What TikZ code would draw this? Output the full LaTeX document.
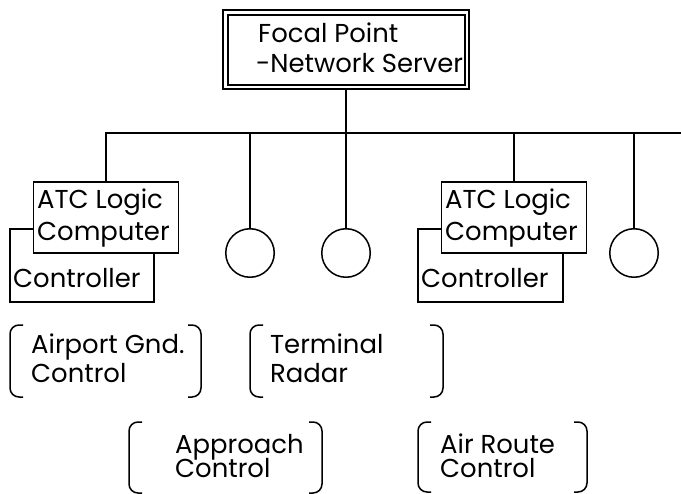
\documentclass[tikz,border=0pt]{standalone}
\usepackage{fontspec}
\setmainfont{Poppins}
\newcommand\brkpair[4]{%
  \draw[ln, rounded corners=9bp] (#1+13,#3) -- (#1,#3) -- (#1,#4) -- (#1+13,#4);
  \draw[ln, rounded corners=9bp] (#2-13,#3) -- (#2,#3) -- (#2,#4) -- (#2-13,#4);}
\begin{document}
\begin{tikzpicture}[x=1bp,y=-1bp,
  ln/.style={line width=1.5bp},
  boxn/.style={draw, ln, fill=white, inner sep=0, outer sep=0},
  circn/.style={draw, ln, circle, minimum size=48.5bp, inner sep=0, outer sep=0},
  txt/.style={anchor=base west, inner sep=0, font=\fontsize{26}{30}\selectfont}]
\useasboundingbox (0,0) rectangle (681,494);
% server
\node[boxn, line width=1.5bp, minimum width=246bp, minimum height=79bp] (srv) at (346,49.5) {};
\node[draw, line width=2.5bp, inner sep=0, minimum width=237bp, minimum height=70bp] (srvin) at (346.5,50) {};
\node[txt] (t1) at (258,43) {Focal Point};
\node[txt] (t2) at (256,73) {-Network Server};
% controller boxes (behind)
\node[boxn, minimum width=144bp, minimum height=73bp] (ctlL) at (82,265.5) {};
\node[boxn, minimum width=145bp, minimum height=73bp] (ctlR) at (490.5,265.5) {};
% ATC boxes
\node[boxn, minimum width=145bp, minimum height=71bp] (atcL) at (106,217.5) {};
\node[boxn, minimum width=145bp, minimum height=71bp] (atcR) at (514,217.5) {};
% circles
\node[circn] (c1) at (250,253) {};
\node[circn] (c2) at (346,253) {};
\node[circn] (c3) at (634,253) {};
% bus and drops
\coordinate (busR) at (681,133);
\draw[ln] (atcL.north) |- (busR);
\draw[ln] (c1.north) -- (c1.north |- busR);
\draw[ln] (srv.south) -- (c2.north);
\draw[ln] (atcR.north) -- (atcR.north |- busR);
\draw[ln] (c3.north) -- (c3.north |- busR);
% texts in boxes
\node[txt] (aL1) at (37,209) {ATC Logic};
\node[txt] (aL2) at (37,241) {Computer};
\node[txt] (cL) at (13,287) {Controller};
\node[txt] (aR1) at (445,209) {ATC Logic};
\node[txt] (aR2) at (445,241) {Computer};
\node[txt] (cR) at (421,287) {Controller};
% bracket groups
\brkpair{10}{201}{325}{397}
\brkpair{250}{443}{325}{397}
\brkpair{129}{322}{422}{493}
\brkpair{418}{587}{422}{492}
\node[txt] (g1) at (31,353) {Airport Gnd.};
\node[txt] (g2) at (31,382) {Control};
\node[txt] (r1) at (270,353) {Terminal};
\node[txt] (r2) at (270,382) {Radar};
\node[txt] (p1) at (175,453) {Approach};
\node[txt] (p2) at (175,477) {Control};
\node[txt] (e1) at (440,453) {Air Route};
\node[txt] (e2) at (440,477) {Control};
\end{tikzpicture}
\end{document}
